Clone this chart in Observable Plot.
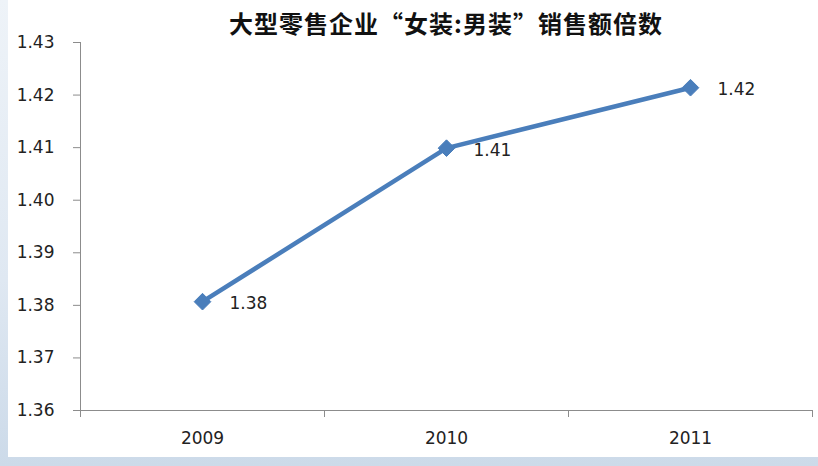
<!DOCTYPE html>
<html><head><meta charset="utf-8">
<script src="https://cdn.jsdelivr.net/npm/d3@7"></script>
<script src="https://cdn.jsdelivr.net/npm/@observablehq/plot@0.6"></script>
<style>
html,body{margin:0;padding:0;}
#wrap{position:relative;width:818px;height:466px;overflow:hidden;
 background:linear-gradient(180deg,#eef3f8 0%,#dfe8f2 60%,#ccdae9 100%);}
#panel{position:absolute;left:8px;top:0;width:810px;height:457px;background:#fff;}
#title{position:absolute;left:0;top:0;width:818px;height:30px;text-align:center;
 font-family:"Noto Sans CJK SC",sans-serif;font-weight:bold;font-size:24px;line-height:30px;color:#111;
 padding-left:74px;box-sizing:border-box;letter-spacing:1px;transform:translateY(8px);}
#chart{position:absolute;left:0;top:30px;}
</style></head>
<body>
<div id="wrap"><div id="panel"></div><div id="title">大型零售企业“女装:男装”销售额倍数</div><div id="chart"></div></div>
<script>
const years = ["2009","2010","2011"];
const ratios = [1.3807, 1.4099, 1.4214];
const yTicks = [1.36,1.37,1.38,1.39,1.40,1.41,1.42,1.43];

const data = years.map((y,i)=>({year:y, value:ratios[i]}));
const W = 818, H = 436, mL = 80, mR = 6;
const step = (W - mL - mR) / years.length;
const font = "DejaVu Sans, sans-serif";

const plot = Plot.plot({
  width: W, height: H,
  marginLeft: mL, marginRight: mR, marginTop: 12, marginBottom: 56,
  style: {fontFamily: font, fontSize: "17px", background: "transparent", color: "#222"},
  x: {type: "band", domain: years, padding: 0, label: null},
  y: {domain: [1.36, 1.43], label: null},
  marks: [
    Plot.frame({anchor: "left", stroke: "#8c8c8c"}),
    Plot.frame({anchor: "bottom", stroke: "#8c8c8c"}),
    Plot.axisY({ticks: yTicks, tickFormat: d=>d.toFixed(2), tickSize: 7, tickPadding: 19, stroke: "#8c8c8c", fill: "#222", label: null}),
    Plot.axisX({tickSize: 0, tickPadding: 21, fill: "#222", label: null}),
    Plot.ruleX(years, {x: d=>d, y1: 1.36, y2: 1.36, dx: -step/2, insetBottom: -7, stroke: "#8c8c8c"}),
    Plot.ruleX(years.slice(-1), {x: d=>d, y1: 1.36, y2: 1.36, dx: step/2, insetBottom: -7, stroke: "#8c8c8c"}),
    Plot.line(data, {x: "year", y: "value", stroke: "#4a7ebb", strokeWidth: 4.5}),
    Plot.dot(data, {x: "year", y: "value", symbol: "diamond2", r: 7.5, fill: "#4a7ebb", stroke: "#4a7ebb", strokeWidth: 1}),
    Plot.text(data, {x: "year", y: "value", text: d=>d.value.toFixed(2), textAnchor: "start", dx: 27, dy: 2, fill: "#222", fontSize: 17})
  ]
});
document.getElementById("chart").appendChild(plot);
</script>
</body></html>
